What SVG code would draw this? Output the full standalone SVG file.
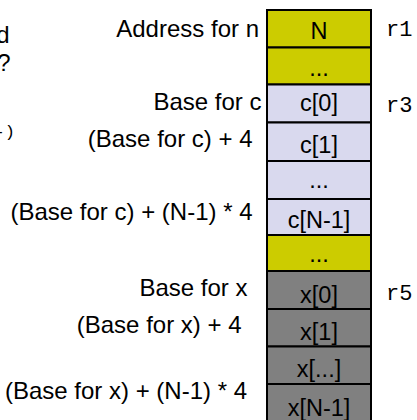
<svg xmlns="http://www.w3.org/2000/svg" width="417" height="420" viewBox="0 0 417 420">
  <style>
    .lbl { font-family: "Liberation Sans", Arial, sans-serif; font-size: 24px; fill: #000; text-anchor: end; }
    .cell text { font-family: "Liberation Sans", Arial, sans-serif; font-size: 23.5px; fill: #000; text-anchor: middle; }
    .cell rect { stroke: #000; stroke-width: 2; }
    .yel rect { fill: #cccc00; }
    .lav rect { fill: #d9d9ee; }
    .gry rect { fill: #808080; }
    .reg { font-family: "Liberation Mono", "Courier New", monospace; font-size: 22px; fill: #000; }
  </style>

  <!-- text running in from the left margin -->
  <g id="margin-text">
    <text class="lbl" x="9.5" y="42.5">d</text>
    <text class="lbl" x="10.5" y="70.5">?</text>
    <text class="reg" x="15" y="137" style="font-size:17px;text-anchor:end">-)</text>
  </g>

  <!-- memory column -->
  <g id="cell-N" class="cell yel"><rect x="267" y="10" width="104" height="37.5"/><text x="319" y="39">N</text></g>
  <g id="cell-gap1" class="cell yel"><rect x="267" y="47.5" width="104" height="37"/><text x="319" y="76">...</text></g>
  <g id="cell-c0" class="cell lav"><rect x="267" y="84.5" width="104" height="38"/><text x="319" y="111">c[0]</text></g>
  <g id="cell-c1" class="cell lav"><rect x="267" y="122.5" width="104" height="38.5"/><text x="319" y="153">c[1]</text></g>
  <g id="cell-cdots" class="cell lav"><rect x="267" y="161" width="104" height="38"/><text x="319" y="188">...</text></g>
  <g id="cell-cN1" class="cell lav"><rect x="267" y="199" width="104" height="36"/><text x="319" y="227.5">c[N-1]</text></g>
  <g id="cell-gap2" class="cell yel"><rect x="267" y="235" width="104" height="36"/><text x="319" y="262">...</text></g>
  <g id="cell-x0" class="cell gry"><rect x="267" y="271" width="104" height="38"/><text x="319" y="303">x[0]</text></g>
  <g id="cell-x1" class="cell gry"><rect x="267" y="309" width="104" height="37.5"/><text x="319" y="340">x[1]</text></g>
  <g id="cell-xdots" class="cell gry"><rect x="267" y="346.5" width="104" height="37.5"/><text x="319" y="377">x[...]</text></g>
  <g id="cell-xN1" class="cell gry"><rect x="267" y="384" width="104" height="40"/><text x="319" y="416">x[N-1]</text></g>

  <!-- address labels -->
  <g id="addr-n"><text class="lbl" x="259" y="37">Address for n</text></g>
  <g id="addr-c"><text class="lbl" x="261.5" y="110">Base for c</text></g>
  <g id="addr-c1"><text class="lbl" x="252.5" y="146.5">(Base for c) + 4</text></g>
  <g id="addr-cN1"><text class="lbl" x="252.5" y="220">(Base for c) + (N-1) * 4</text></g>
  <g id="addr-x"><text class="lbl" x="247.5" y="296">Base for x</text></g>
  <g id="addr-x1"><text class="lbl" x="241.5" y="333">(Base for x) + 4</text></g>
  <g id="addr-xN1"><text class="lbl" x="247" y="399">(Base for x) + (N-1) * 4</text></g>

  <!-- registers -->
  <g id="reg-r1"><text class="reg" x="386" y="36">r1</text></g>
  <g id="reg-r3"><text class="reg" x="386" y="112">r3</text></g>
  <g id="reg-r5"><text class="reg" x="386" y="300">r5</text></g>
</svg>
